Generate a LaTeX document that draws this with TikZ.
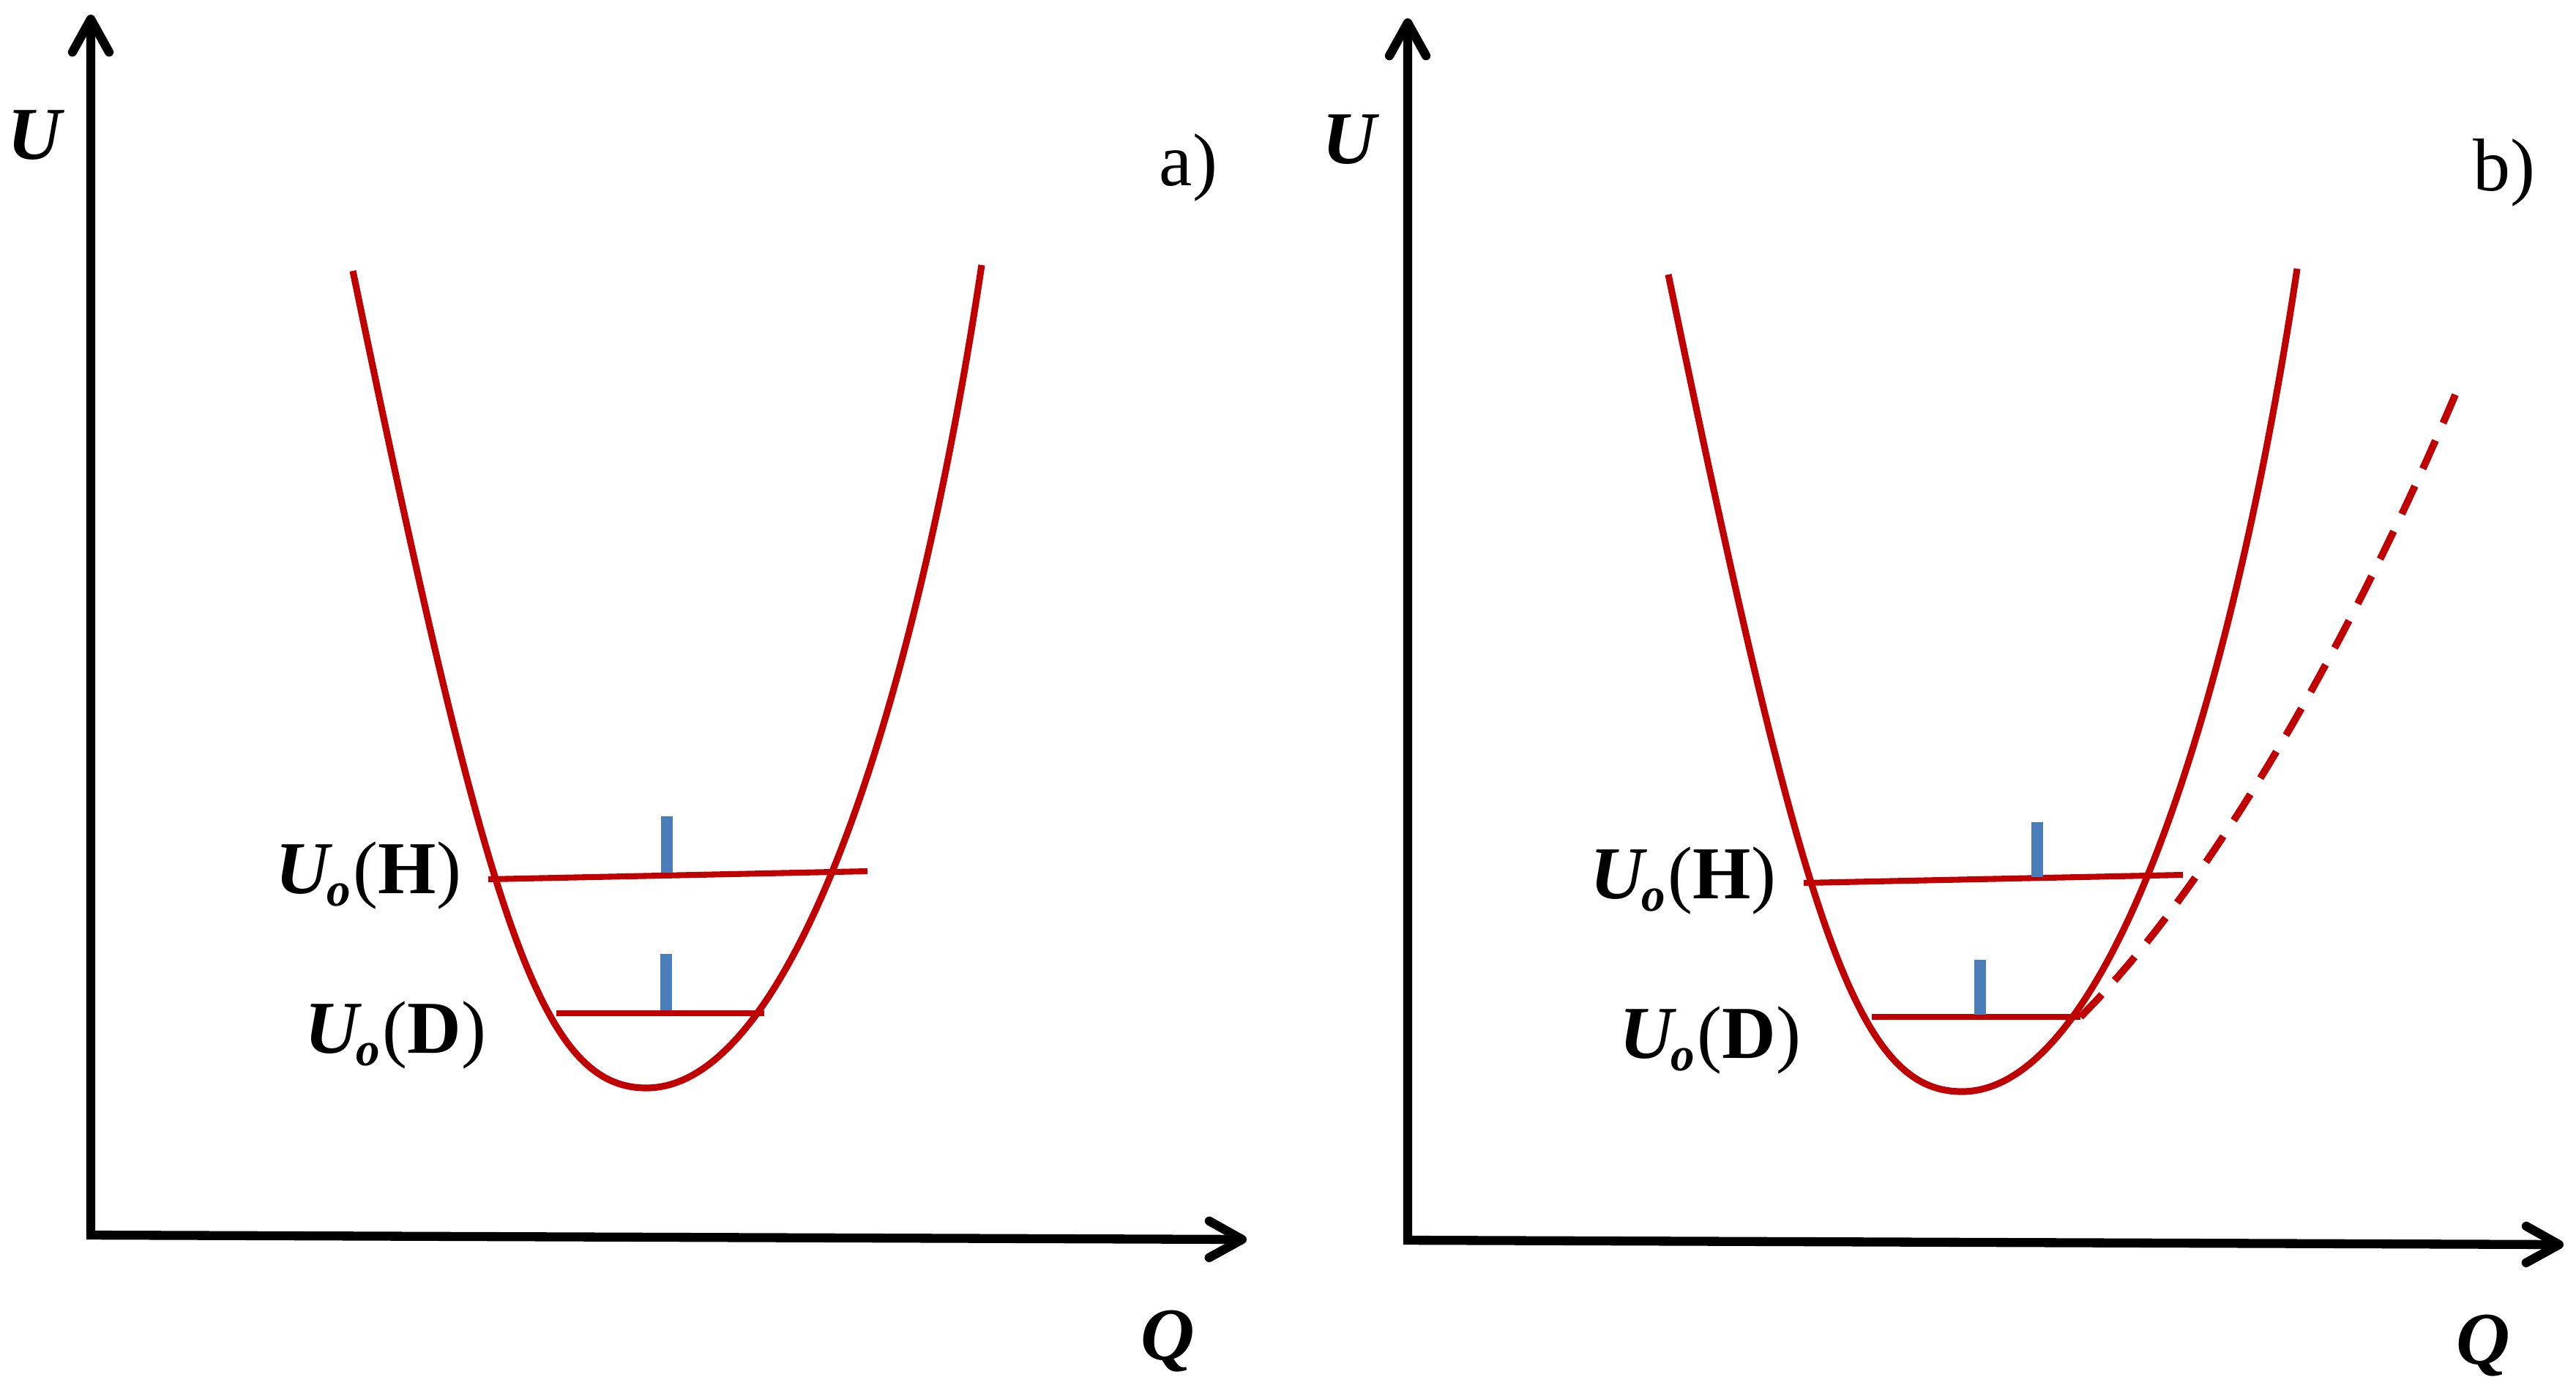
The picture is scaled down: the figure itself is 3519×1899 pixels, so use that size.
\documentclass[tikz,border=0pt]{standalone}
\usepackage{fontspec}
\setmainfont{Liberation Serif}
\usetikzlibrary{arrows.meta}
\definecolor{wred}{RGB}{192,0,0}
\definecolor{wblue}{RGB}{74,126,187}
\newcommand{\Ulab}[1]{{\bfseries\itshape U}\kern-1pt\raisebox{-5pt}{\fontsize{18.5}{19}\selectfont\bfseries\itshape o}\kern1pt(\textbf{#1})}
\newcommand{\wellcurve}{%
  \draw[well] (482,370) .. controls (668,1270) and (740,1486) .. (883,1486)
                        .. controls (1083,1486) and (1251,962) .. (1341,362);}
\begin{document}
\begin{tikzpicture}[x=0.01cm,y=-0.01cm,
  axisline/.style={line width=3.5pt,
    arrows={Straight Barb[length=4.5mm,width=5mm,round]-Straight Barb[length=4.5mm,width=5mm,round]}},
  well/.style={draw=wred, line width=2.6pt},
  levelline/.style={draw=wred, line width=2.3pt},
  tickmark/.style={draw=wblue, line width=4.3pt},
  dashcurve/.style={draw=wred, line width=2.8pt, dash pattern=on 12pt off 7.4pt},
  lab/.style={inner sep=0pt, anchor=base west, font=\fontsize{29}{31}\selectfont}]
\useasboundingbox (0,0) rectangle (3519,1899);

% ---------- panel a ----------
\coordinate (aO) at (124,1687);
\coordinate (aY) at (124,20);
\coordinate (aX) at (1703,1693);
\draw[axisline] (aY) -- (aO) -- (aX);

\wellcurve
\coordinate (aH1) at (667,1201);
\coordinate (aH2) at (1185,1190);
\coordinate (aD1) at (760,1384);
\coordinate (aD2) at (1044,1384);
\draw[levelline] (aH1) -- (aH2);
\draw[levelline] (aD1) -- (aD2);
\coordinate (aHt1) at (911,1115);
\coordinate (aHt2) at (911,1192);
\coordinate (aDt1) at (910,1303);
\coordinate (aDt2) at (910,1380);
\draw[tickmark] (aHt1) -- (aHt2);
\draw[tickmark] (aDt1) -- (aDt2);

\node[lab] (aU) at (10,217) {\bfseries\itshape U};
\node[lab] (aT) at (1583,253) {a)};
\node[lab] (aQ) at (1558,1857) {\bfseries\itshape Q};
\node[lab] (aLH) at (376,1220) {\Ulab{H}};
\node[lab] (aLD) at (416,1438) {\Ulab{D}};

% ---------- panel b ----------
\coordinate (bO) at (1923,1694);
\coordinate (bY) at (1923,25);
\coordinate (bX) at (3502,1700);
\draw[axisline] (bY) -- (bO) -- (bX);

\begin{scope}[shift={(1797,5)}]
\wellcurve
\end{scope}
\coordinate (bH1) at (2464,1206);
\coordinate (bH2) at (2982,1195);
\coordinate (bD1) at (2557,1389);
\coordinate (bD2) at (2842,1389);
\draw[levelline] (bH1) -- (bH2);
\draw[levelline] (bD1) -- (bD2);
\coordinate (bHt1) at (2783,1123);
\coordinate (bHt2) at (2783,1198);
\coordinate (bDt1) at (2705,1311);
\coordinate (bDt2) at (2705,1386);
\draw[tickmark] (bHt1) -- (bHt2);
\draw[tickmark] (bDt1) -- (bDt2);

\coordinate (bE) at (3360,525);
\draw[dashcurve] (bD2) .. controls (3040,1191) and (3234,825) .. (bE);

\node[lab] (bU) at (1806,223) {\bfseries\itshape U};
\node[lab] (bT) at (3378,260) {b)};
\node[lab] (bQ) at (3355,1863) {\bfseries\itshape Q};
\node[lab] (bLH) at (2172,1227) {\Ulab{H}};
\node[lab] (bLD) at (2212,1445) {\Ulab{D}};
\end{tikzpicture}
\end{document}
